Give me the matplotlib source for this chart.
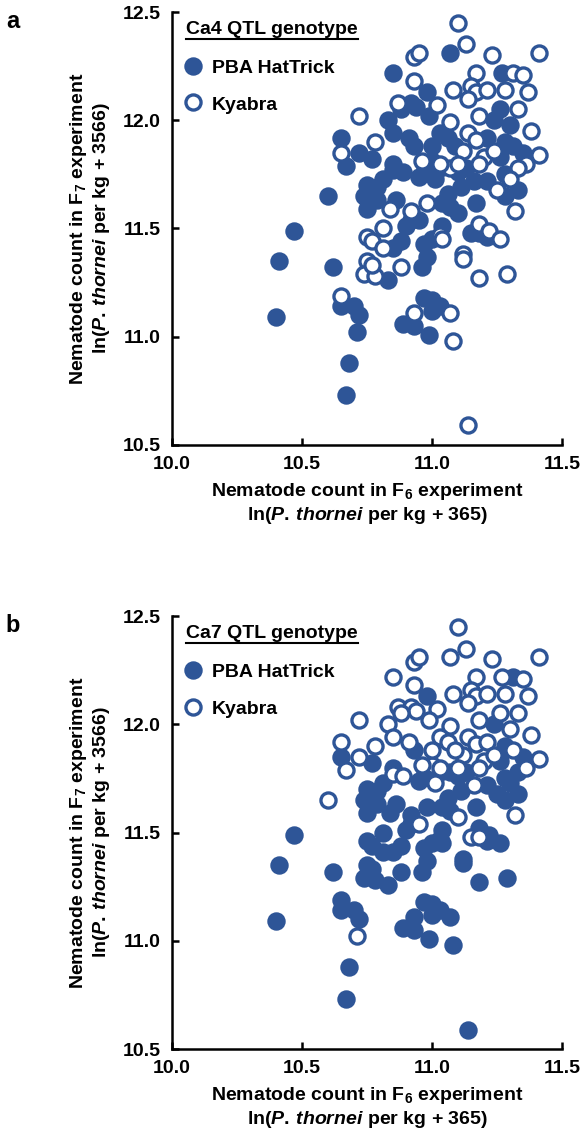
import numpy as np
import matplotlib.pyplot as plt

plt.rcParams['font.family'] = ['Liberation Sans', 'DejaVu Sans']
plt.rcParams['font.weight'] = 'bold'
plt.rcParams['mathtext.fontset'] = 'custom'
plt.rcParams['mathtext.rm'] = 'Liberation Sans:bold'
plt.rcParams['mathtext.bf'] = 'Liberation Sans:bold'
plt.rcParams['mathtext.it'] = 'Liberation Sans:italic:bold'
plt.rcParams['mathtext.default'] = 'bf'

BLUE = '#2E5597'

# nematode counts (ln scale), F6 experiment (x) and F7 experiment (y)
# hat4 / hat7 : 1 = PBA HatTrick allele, 0 = Kyabra allele at Ca4 / Ca7 QTL
x_f6 = [11.10, 11.13, 10.93, 10.95, 11.07, 11.23, 11.41, 10.85, 11.17, 11.31,
        11.35, 11.27, 10.93, 11.08, 11.15, 11.17, 11.21, 11.28, 11.37, 10.98,
        10.87, 10.92, 10.94, 11.02, 11.14, 10.88, 11.26, 11.33, 10.72, 10.83,
        10.99, 11.07, 11.18, 11.24, 11.30, 11.38,
        10.65, 10.78, 10.85, 10.91, 10.93, 11.03, 11.06, 11.14, 11.17, 11.21,
        11.12, 11.28, 11.31, 11.35, 11.41, 10.72, 10.77, 10.65, 10.85, 10.97,
        11.00, 11.07, 11.20, 11.26, 11.36, 11.33, 10.67, 10.85, 10.89, 10.95,
        10.99, 11.03, 10.96, 11.03, 11.10, 11.18, 11.13, 11.10, 11.16, 11.21,
        11.28, 11.30, 11.01, 11.09, 11.24, 11.00,
        11.11, 10.75, 10.79, 10.74, 10.79, 10.75, 10.86, 10.84, 10.98, 10.92,
        10.92, 10.95, 11.06, 11.07, 11.10, 11.04, 10.60, 11.25, 11.28, 11.33,
        11.32, 11.18, 11.22, 11.04, 10.90, 11.17, 10.81,
        11.15, 11.18, 11.21, 11.03, 11.04, 11.26, 10.75, 10.77, 10.81, 10.75,
        10.74, 10.85, 10.88, 10.81, 10.88, 10.83, 10.78, 10.96, 10.98, 10.97,
        11.00, 11.12, 11.12, 11.18, 11.29, 10.41, 10.47, 10.62, 10.77,
        10.65, 10.65, 10.70, 10.72, 10.71, 10.68, 10.67, 10.40, 10.89, 10.93,
        10.99, 11.08, 11.07, 11.00, 10.93, 10.97, 11.00, 11.03, 11.14]
y_f7 = [12.45, 12.35, 12.29, 12.31, 12.31, 12.30, 12.31, 12.22, 12.22, 12.22,
        12.21, 12.22, 12.18, 12.14, 12.16, 12.13, 12.14, 12.14, 12.13, 12.13,
        12.08, 12.08, 12.06, 12.07, 12.10, 12.05, 12.05, 12.05, 12.02, 12.00,
        12.02, 11.99, 12.02, 12.00, 11.98, 11.95,
        11.92, 11.90, 11.94, 11.92, 11.88, 11.94, 11.92, 11.94, 11.91, 11.92,
        11.86, 11.90, 11.88, 11.85, 11.84, 11.85, 11.82, 11.85, 11.80, 11.80,
        11.81, 11.78, 11.83, 11.83, 11.80, 11.78, 11.79, 11.77, 11.76, 11.74,
        11.76, 11.78, 11.81, 11.80, 11.80, 11.80, 11.78, 11.76, 11.72, 11.72,
        11.75, 11.73, 11.73, 11.88, 11.86, 11.88,
        11.69, 11.70, 11.69, 11.65, 11.63, 11.59, 11.63, 11.59, 11.62, 11.58,
        11.54, 11.54, 11.66, 11.60, 11.57, 11.62, 11.65, 11.68, 11.65, 11.68,
        11.58, 11.52, 11.49, 11.51, 11.51, 11.62, 11.73,
        11.48, 11.48, 11.46, 11.47, 11.45, 11.45, 11.46, 11.44, 11.50, 11.35,
        11.29, 11.41, 11.44, 11.41, 11.32, 11.26, 11.28, 11.32, 11.37, 11.43,
        11.45, 11.38, 11.36, 11.27, 11.29, 11.35, 11.49, 11.32, 11.33,
        11.19, 11.14, 11.14, 11.10, 11.02, 10.88, 10.73, 11.09, 11.06, 11.05,
        11.01, 10.98, 11.11, 11.12, 11.11, 11.18, 11.17, 11.14, 10.59]
hat4 = [0, 0, 0, 0, 1, 0, 0, 1, 0, 0,
        0, 1, 0, 0, 0, 0, 0, 0, 0, 1,
        0, 1, 1, 0, 0, 1, 1, 0, 0, 1,
        1, 0, 0, 1, 1, 0,
        1, 0, 1, 1, 1, 1, 1, 0, 0, 1,
        0, 1, 1, 1, 0, 1, 1, 0, 1, 1,
        1, 0, 0, 1, 0, 0, 1, 1, 1, 1,
        1, 1, 0, 0, 0, 0, 1, 1, 1, 1,
        1, 0, 1, 1, 0, 1,
        1, 1, 1, 1, 1, 1, 1, 0, 0, 0,
        1, 1, 1, 1, 1, 1, 1, 0, 1, 1,
        0, 0, 0, 1, 1, 1, 1,
        1, 1, 1, 0, 0, 0, 0, 0, 0, 0,
        0, 1, 1, 0, 0, 1, 0, 1, 1, 1,
        1, 0, 0, 0, 0, 1, 1, 1, 0,
        0, 1, 1, 1, 1, 1, 1, 1, 1, 1,
        1, 0, 0, 1, 0, 1, 1, 1, 0]
hat7 = [0, 0, 0, 0, 0, 0, 0, 0, 0, 1,
        0, 0, 0, 0, 0, 0, 0, 0, 0, 1,
        0, 0, 0, 0, 0, 0, 0, 0, 0, 0,
        0, 0, 0, 1, 0, 0,
        0, 0, 0, 0, 1, 0, 0, 0, 0, 0,
        0, 1, 0, 1, 0, 0, 1, 1, 1, 1,
        0, 1, 0, 1, 0, 1, 0, 0, 0, 1,
        1, 1, 0, 0, 0, 0, 1, 1, 0, 1,
        1, 1, 0, 0, 0, 0,
        1, 1, 1, 1, 1, 1, 1, 1, 1, 1,
        1, 0, 1, 1, 0, 1, 0, 1, 1, 1,
        0, 1, 1, 1, 1, 1, 1,
        0, 0, 1, 1, 1, 1, 1, 1, 1, 1,
        1, 1, 1, 1, 1, 1, 1, 1, 1, 1,
        1, 1, 1, 1, 1, 1, 1, 1, 1,
        1, 1, 1, 1, 0, 1, 1, 1, 1, 1,
        1, 1, 1, 1, 1, 1, 1, 1, 1]

x_f6 = np.array(x_f6)
y_f7 = np.array(y_f7)

fig = plt.figure(figsize=(5.86, 11.43), dpi=100)
ax_a = fig.add_axes([0.2935, 0.6107, 0.6655, 0.3788])
ax_b = fig.add_axes([0.2935, 0.0822, 0.6655, 0.3788])


def draw_panel(ax, hat, qtl, letter):
    hat = np.array(hat, bool)
    ax.scatter(x_f6[hat], y_f7[hat], s=118, facecolors=BLUE, edgecolors=BLUE,
               linewidths=2.4, zorder=3, clip_on=False)
    ax.scatter(x_f6[~hat], y_f7[~hat], s=118, facecolors='white', edgecolors=BLUE,
               linewidths=2.4, zorder=4, clip_on=False)
    ax.set_xlim(10.0, 11.5)
    ax.set_ylim(10.5, 12.5)
    ax.set_xticks(np.arange(10.0, 11.51, 0.5))
    ax.set_yticks(np.arange(10.5, 12.51, 0.5))
    ax.set_xticklabels(['%.1f' % v for v in ax.get_xticks()])
    ax.set_yticklabels(['%.1f' % v for v in ax.get_yticks()])
    for s in ['top', 'right']:
        ax.spines[s].set_visible(False)
    for s in ['left', 'bottom']:
        ax.spines[s].set_linewidth(1.8)
    ax.tick_params(direction='in', length=5, width=1.8, labelsize=14, pad=8)
    ax.set_xlabel('Nematode count in F$_6$ experiment\n'
                  r'ln($\mathit{P.\,thornei}$ per kg + 365)',
                  fontsize=14, fontweight='bold', linespacing=1.15, labelpad=6)
    ax.set_ylabel('Nematode count in F$_7$ experiment\n'
                  r'ln($\mathit{P.\,thornei}$ per kg + 3566)',
                  fontsize=14, fontweight='bold', linespacing=1.15, labelpad=8)

    # legend box drawn by hand
    title = ax.text(0.036, 0.949, qtl + ' QTL genotype', transform=ax.transAxes,
                    fontsize=14, fontweight='bold', va='baseline')
    ax.scatter([0.054], [0.876], s=118, facecolors=BLUE, edgecolors=BLUE,
               linewidths=2.4, transform=ax.transAxes, clip_on=False, zorder=5)
    ax.scatter([0.054], [0.791], s=118, facecolors='white', edgecolors=BLUE,
               linewidths=2.4, transform=ax.transAxes, clip_on=False, zorder=5)
    ax.text(0.103, 0.859, 'PBA HatTrick', transform=ax.transAxes,
            fontsize=14, fontweight='bold', va='baseline')
    ax.text(0.103, 0.774, 'Kyabra', transform=ax.transAxes,
            fontsize=14, fontweight='bold', va='baseline')

    pos = ax.get_position()
    fig.text(0.01, pos.y1 + 0.002, letter, fontsize=17, fontweight='bold',
             va='top', ha='left')
    return title


t_a = draw_panel(ax_a, hat4, 'Ca4', 'a')
t_b = draw_panel(ax_b, hat7, 'Ca7', 'b')

# underline the legend titles
fig.canvas.draw()
for ax, t in [(ax_a, t_a), (ax_b, t_b)]:
    bb = t.get_window_extent().transformed(ax.transAxes.inverted())
    ax.plot([bb.x0, bb.x1], [bb.y0 - 0.002, bb.y0 - 0.002], color='black',
            lw=1.5, transform=ax.transAxes, clip_on=False)

fig.savefig('out.png', dpi=100)
